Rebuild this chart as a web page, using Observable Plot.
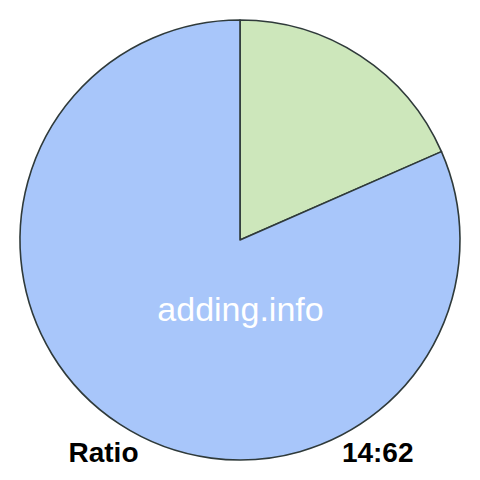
<!DOCTYPE html>
<html>
<head>
<meta charset="utf-8">
<script src="https://cdn.jsdelivr.net/npm/d3@7"></script>
<script src="https://cdn.jsdelivr.net/npm/@observablehq/plot@0.6"></script>
<style>
  html, body { margin: 0; padding: 0; background: #fff; }
</style>
</head>
<body>
<div id="chart"></div>
<script>
const labels = ["A", "B"];
const values = [14, 62];
const colors = ["#cde7bb", "#a8c6fa"];
const watermark = "adding.info";
const leftLabel = "Ratio";
const rightLabel = values.join(":");

const data = labels.map((l, i) => ({label: l, value: values[i], color: colors[i]}));

function pieMark(index, scales, values_, dimensions) {
  const cx = scales.x(0), cy = scales.y(0);
  const r = scales.x(220) - scales.x(0);
  const pie = d3.pie().sort(null).value(d => d.value)(data);
  const arc = d3.arc().innerRadius(0).outerRadius(r);
  const g = d3.create("svg:g").attr("transform", `translate(${cx},${cy})`);
  g.selectAll("path").data(pie).join("path")
    .attr("d", arc)
    .attr("fill", d => d.data.color)
    .attr("stroke", "#2f3a3a")
    .attr("stroke-width", 1.6)
    .attr("stroke-linejoin", "round");
  return g.node();
}

const chart = Plot.plot({
  width: 480,
  height: 480,
  margin: 0,
  x: {domain: [-240, 240], range: [0, 480], axis: null},
  y: {domain: [-240, 240], range: [0, 480], axis: null},
  style: {fontFamily: "Liberation Sans, Arial, sans-serif", background: "#fff"},
  marks: [
    pieMark,
    Plot.text([watermark], {x: () => 0, y: () => 80, text: d => d, fill: "#fff", fontSize: 34, textAnchor: "middle", lineAnchor: "bottom"}),
    Plot.text([leftLabel], {x: () => -172, y: () => 221, text: d => d, fill: "#000", fontSize: 28, fontWeight: "bold", textAnchor: "start", lineAnchor: "bottom"}),
    Plot.text([rightLabel], {x: () => 173, y: () => 221, text: d => d, fill: "#000", fontSize: 28, fontWeight: "bold", textAnchor: "end", lineAnchor: "bottom"})
  ]
});
document.getElementById("chart").appendChild(chart);
</script>
</body>
</html>
